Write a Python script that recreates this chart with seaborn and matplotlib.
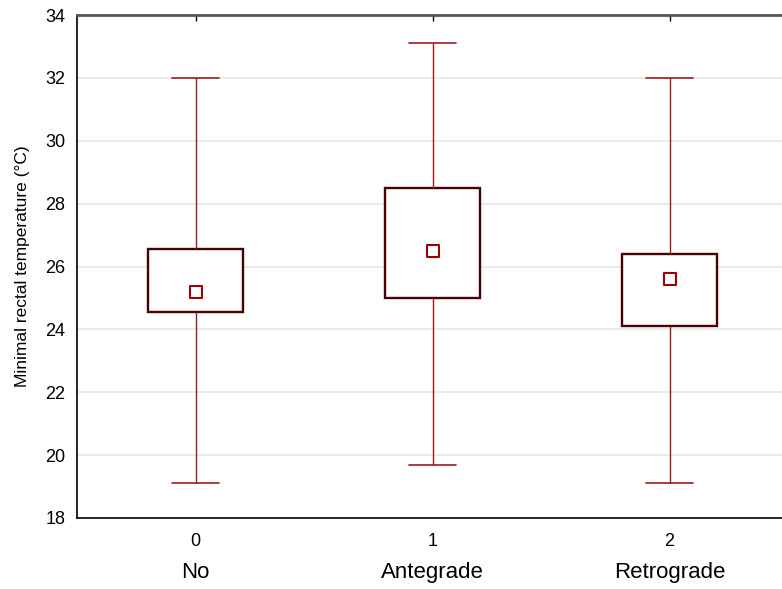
import pandas as pd
import matplotlib
matplotlib.use("Agg")
import matplotlib.pyplot as plt
import matplotlib.transforms as mtransforms
import seaborn as sns

# values
codes = ["0", "1", "2"]
groups = ["No", "Antegrade", "Retrograde"]
means = [25.2, 26.5, 25.6]
box_low = [24.55, 25.0, 24.1]
box_high = [26.55, 28.5, 26.4]
whisker_low = [19.1, 19.7, 19.1]
whisker_high = [32.0, 33.1, 32.0]
y_ticks = [18, 20, 22, 24, 26, 28, 30, 32, 34]

# five points per group so the box and whiskers land on the summary values
rows = []
for i, code in enumerate(codes):
    for v in [whisker_low[i], box_low[i], means[i], box_high[i], whisker_high[i]]:
        rows.append({"code": code, "value": v})
df = pd.DataFrame(rows)
mean_df = pd.DataFrame({"code": codes, "value": means})

sns.set_style("white")
plt.rcParams["font.family"] = ["Liberation Sans", "DejaVu Sans"]

box_col = "#4a0000"
whisk_col = "#9e1b1b"

fig = plt.figure(figsize=(7.82, 5.89), dpi=100)
ax = fig.add_axes([77 / 782, 71 / 589, 711 / 782, 503 / 589])

sns.boxplot(data=df, x="code", y="value", order=codes, whis=(0, 100),
            width=0.4, color="white", linecolor=box_col, linewidth=1.7,
            showfliers=False, ax=ax,
            medianprops=dict(visible=False),
            whiskerprops=dict(color=whisk_col, linewidth=1.0),
            capprops=dict(color=whisk_col, linewidth=1.2))

sns.scatterplot(data=mean_df, x="code", y="value", marker="s", s=70,
                facecolor="white", edgecolor="#9a0000", linewidth=1.5,
                zorder=5, ax=ax)

ax.set_xlim(-0.5, 2.5)
ax.set_ylim(18, 34)
ax.set_yticks(y_ticks)
ax.set_xticks([0, 1, 2])
ax.set_xticklabels(codes)
ax.set_xlabel("")
ax.set_ylabel("Minimal rectal temperature (°C)", fontsize=12.5, color="black")
ax.yaxis.set_label_coords(-0.066, 0.5)
ax.yaxis.grid(True, color="#e6e6e6", linewidth=1.2)
ax.set_axisbelow(True)
ax.tick_params(axis="both", direction="in", length=4, width=1, labelsize=13,
               top=True, right=False, color="black", labelcolor="black")
ax.tick_params(axis="x", pad=11)
ax.tick_params(axis="y", pad=8.5)

for side in ["left", "bottom"]:
    ax.spines[side].set_color("black")
    ax.spines[side].set_linewidth(1.2)
ax.spines["top"].set_color("#555555")
ax.spines["top"].set_linewidth(2)
ax.spines["right"].set_visible(False)

# group names under the code numbers
trans = mtransforms.blended_transform_factory(ax.transData, ax.transAxes)
for i, name in enumerate(groups):
    ax.text(i, -0.109, name, transform=trans, ha="center", va="center",
            fontsize=16, color="black")

# title sits mostly above the visible area, as in the reference
fig.text(433 / 782, 1 + 4 / 589, "Perfusion group", ha="center",
         va="baseline", fontsize=14, color="black")

fig.savefig("out.png", dpi=100)
